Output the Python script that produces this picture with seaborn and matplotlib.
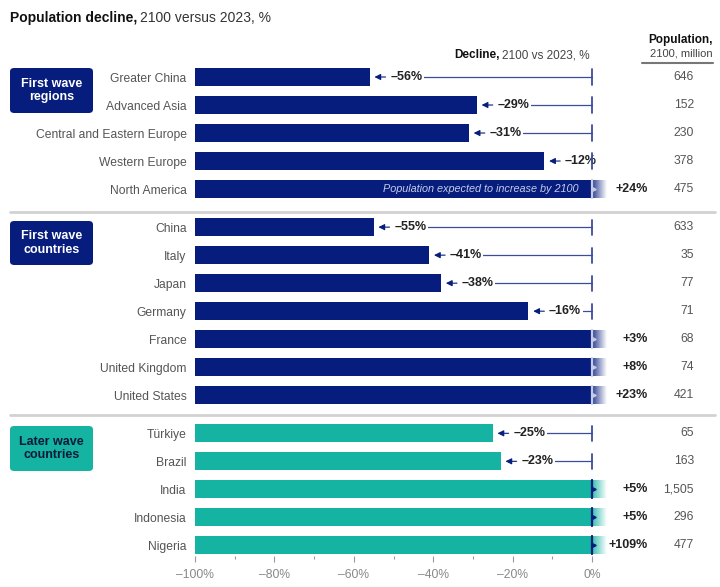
import numpy as np
import pandas as pd
import matplotlib.pyplot as plt
import seaborn as sns
from matplotlib.patches import FancyBboxPatch
from matplotlib.lines import Line2D
from matplotlib.colors import to_rgb

sns.set_theme(style="white")
plt.rcParams['font.family'] = ['Liberation Sans', 'DejaVu Sans']

# data
regions = ["Greater China", "Advanced Asia", "Central and Eastern Europe", "Western Europe",
           "North America", "China", "Italy", "Japan", "Germany", "France", "United Kingdom",
           "United States", "Türkiye", "Brazil", "India", "Indonesia", "Nigeria"]
change = [-56, -29, -31, -12, 24, -55, -41, -38, -16, 3, 8, 23, -25, -23, 5, 5, 109]
pop_2100 = ["646", "152", "230", "378", "475", "633", "35", "77", "71", "68", "74", "421",
            "65", "163", "1,505", "296", "477"]
waves = ["First wave\nregions"] * 5 + ["First wave\ncountries"] * 7 + ["Later wave\ncountries"] * 5
wave_order = ["First wave\nregions", "First wave\ncountries", "Later wave\ncountries"]

NAVY = '#071d7d'
TEAL = '#14b3a2'
LINE = '#3c4c9c'
GREY = '#555555'
palette = {wave_order[0]: NAVY, wave_order[1]: NAVY, wave_order[2]: TEAL}

# row positions, with a small gap between groups
gap = 0.36
pos = [i + gap * wave_order.index(w) for i, w in enumerate(waves)]

df = pd.DataFrame({'region': regions, 'change': change, 'pop': pop_2100,
                   'wave': waves, 'pos': pos})
df['bar'] = 100 + df['change'].clip(upper=0)

W, H = 720, 587
fig = plt.figure(figsize=(7.2, 5.87), dpi=100)


def fx(px):
    return px / W


def fy(py):
    return 1 - py / H


ax = fig.add_axes([fx(195), fy(556), (592 - 195) / W, (556 - 60) / H])

sns.barplot(data=df, x='bar', y='pos', hue='wave', palette=palette, orient='h',
            native_scale=True, width=0.64, dodge=False, legend=False, saturation=1,
            linewidth=0, ax=ax)

for _, r in df.iterrows():
    y = r['pos']
    col = palette[r['wave']]
    if r['change'] < 0:
        end = r['bar']
        ax.annotate('', xy=(end + 1.2, y), xytext=(end + 4.0, y),
                    arrowprops=dict(arrowstyle='-|>,head_length=0.3,head_width=0.15',
                                    color=NAVY, lw=0.8, shrinkA=0, shrinkB=0))
        ax.plot([end + 5, 100], [y, y], color=LINE, lw=0.9, zorder=2, clip_on=False)
        ax.text(end + 5.2, y, f"–{abs(r['change'])}%", ha='left', va='center',
                fontweight='bold', fontsize=9, color='#222222',
                bbox=dict(fc='white', ec='none', pad=1.0), zorder=3)
        ax.plot([100, 100], [y - 0.27, y + 0.27], color=LINE, lw=1.3, zorder=4, clip_on=False)
    else:
        # fading tail past 0%
        grad = np.zeros((1, 60, 4))
        grad[..., :3] = to_rgb(col)
        grad[..., 3] = np.linspace(0.85, 0, 60)
        ax.imshow(grad, extent=[100, 103.6, y + 0.32, y - 0.32], aspect='auto',
                  interpolation='bilinear', clip_on=False, zorder=1)
        mark = '#c5cbe8' if col == NAVY else NAVY
        ax.plot([100, 100], [y - 0.32, y + 0.32], color=mark, lw=1.6, zorder=4, clip_on=False)
        ax.plot([100.6], [y], marker='>', ms=2.5, color=mark, zorder=4, clip_on=False)
        ax.text(114.1, y, f"+{r['change']}%", ha='right', va='center',
                fontweight='bold', fontsize=9, color='#222222')
    ax.text(125.7, y, r['pop'], ha='right', va='center', fontsize=8.7, color=GREY)

ax.text(96.5, df['pos'][4], 'Population expected to increase by 2100', ha='right',
        va='center', style='italic', color='#c5cbe8', fontsize=7.8)

ax.set_xlim(0, 100)
ax.set_ylim(17.1, -0.607)
ax.set_xticks(range(0, 101, 20), ['–100%', '–80%', '–60%', '–40%', '–20%', '0%'])
ax.set_xticks(range(10, 100, 20), minor=True)
ax.set_yticks(df['pos'], df['region'])
ax.set_xlabel('')
ax.set_ylabel('')
for s in ax.spines.values():
    s.set_visible(False)
ax.tick_params(axis='x', which='major', length=4, width=0.8, color='#999999',
               labelsize=8.7, labelcolor='#888888', pad=5, bottom=True)
ax.tick_params(axis='x', which='minor', length=2, width=0.8, color='#999999', bottom=True)
ax.tick_params(axis='y', length=0, pad=6, labelsize=8.7, labelcolor=GREY)

# group boxes
boxes = [(68, 113, wave_order[0], NAVY, 'white'),
         (221, 265, wave_order[1], NAVY, 'white'),
         (426, 471, wave_order[2], TEAL, '#0b1a3a')]
for top, bot, txt, fc, tc in boxes:
    fig.add_artist(FancyBboxPatch((fx(10), fy(bot)), (93 - 10) / W, (bot - top) / H,
                                  boxstyle='round,pad=0,rounding_size=0.006',
                                  fc=fc, ec='none', transform=fig.transFigure))
    fig.text(fx(51.5), fy((top + bot) / 2), txt, ha='center', va='center', color=tc,
             fontweight='bold', fontsize=9, linespacing=1.15)

for yy in (212, 415):
    fig.add_artist(Line2D([fx(10), fx(715)], [fy(yy), fy(yy)], color='#d2d2d2', lw=2))

# titles: bold part followed by regular part
renderer = fig.canvas.get_renderer()
t1 = fig.text(fx(10), fy(18), 'Population decline,', ha='left', va='center',
              fontweight='bold', fontsize=10, color='#111111')
bb = t1.get_window_extent(renderer)
fig.text(bb.x1 / W + fx(3), fy(18), '2100 versus 2023, %', ha='left', va='center',
         fontsize=10, color='#333333')

t2 = fig.text(fx(590), fy(55), '2100 vs 2023, %', ha='right', va='center',
              fontsize=8.5, color='#444444')
bb = t2.get_window_extent(renderer)
fig.text(bb.x0 / W - fx(3), fy(55), 'Decline,', ha='right', va='center',
         fontweight='bold', fontsize=8.5, color='#111111')

fig.text(fx(713), fy(40), 'Population,', ha='right', va='center', fontweight='bold',
         fontsize=8.5, color='#111111')
fig.text(fx(713), fy(54), '2100, million', ha='right', va='center', fontsize=8,
         color='#444444')
fig.add_artist(Line2D([fx(642), fx(713)], [fy(63), fy(63)], color='#777777', lw=1.5))

fig.savefig('out.png', dpi=100)
